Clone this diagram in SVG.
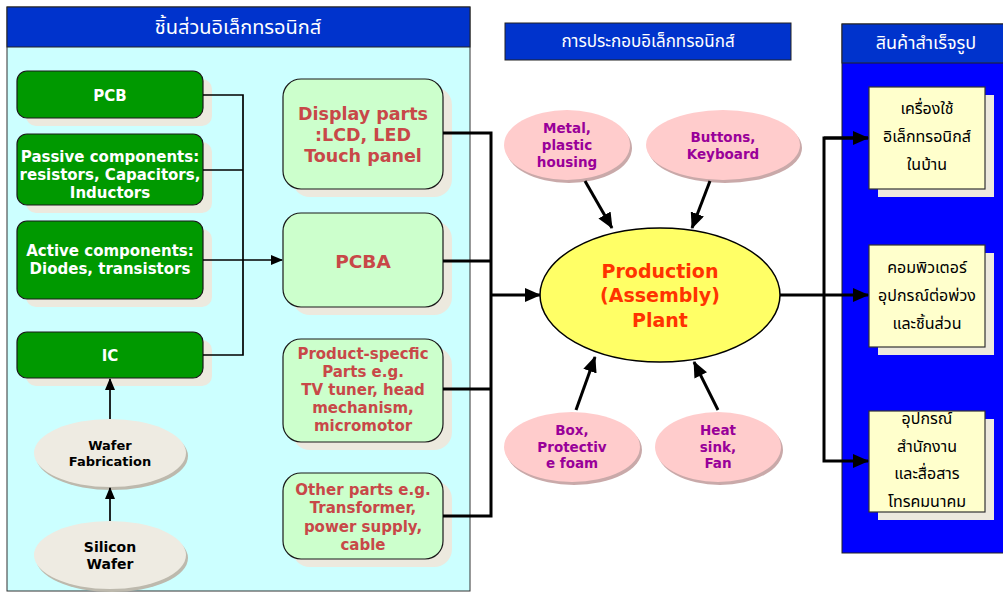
<svg xmlns="http://www.w3.org/2000/svg" width="1003" height="592" viewBox="0 0 1003 592">
<defs>
<style>
.hdr{fill:#0033CC;stroke:#222;stroke-width:1}
.th{font-family:"Noto Sans Thai","Noto Sans",sans-serif;text-anchor:middle}
.b{font-family:"DejaVu Sans",Verdana,sans-serif;font-weight:bold;text-anchor:middle}
.green{fill:#009900;stroke:#1a1a1a;stroke-width:1.2}
.lg{fill:#CCFFCC;stroke:#1a1a1a;stroke-width:1.2}
.shd{fill:#ECE9DE}
.yel{fill:#FFFFCC;stroke:#333;stroke-width:1.2}
.pink{fill:#FFCCCC}
.gry{fill:#EEEBE2}
.wt{fill:#fff}
.rd{fill:#C84848}
.pu{fill:#990099}
.thin{stroke:#000;stroke-width:1.7;fill:none}
.thick{stroke:#000;stroke-width:3;fill:none}
</style>
<marker id="as" markerUnits="userSpaceOnUse" markerWidth="12" markerHeight="10" refX="11" refY="5" orient="auto"><path d="M0,0 L12,5 L0,10 Z" fill="#000"/></marker>
<marker id="al" markerUnits="userSpaceOnUse" markerWidth="16" markerHeight="14" refX="15" refY="7" orient="auto"><path d="M0,0 L16,7 L0,14 Z" fill="#000"/></marker>
</defs>
<rect width="1003" height="592" fill="#fff"/>

<g id="panel-left">
<rect x="7" y="7" width="463" height="584" fill="#CCFFFF" stroke="#333" stroke-width="1"/>
<rect x="7" y="7" width="463" height="40" class="hdr"/>
<text x="238" y="34" class="th wt" font-size="20">ชิ้นส่วนอิเล็กทรอนิกส์</text>
</g>

<g id="panel-mid-title">
<rect x="505" y="23" width="286" height="37" class="hdr"/>
<text x="648" y="47" class="th wt" font-size="17">การประกอบอิเล็กทรอนิกส์</text>
</g>

<g id="panel-right">
<rect x="842" y="24" width="170" height="529" fill="#0000FF" stroke="#222" stroke-width="1"/>
<rect x="842" y="24" width="170" height="39" class="hdr"/>
<text x="926" y="49" class="th wt" font-size="18">สินค้าสำเร็จรูป</text>
</g>

<g id="pcb">
<rect x="26" y="79" width="186" height="47" rx="10" class="shd"/>
<rect x="17" y="71" width="186" height="47" rx="10" class="green"/>
<text x="110" y="101" class="b wt" font-size="15">PCB</text>
</g>
<g id="passive">
<rect x="26" y="142" width="186" height="71" rx="10" class="shd"/>
<rect x="17" y="134" width="186" height="71" rx="10" class="green"/>
<text class="b wt" font-size="15"><tspan x="110" y="162">Passive components:</tspan><tspan x="110" y="180">resistors, Capacitors,</tspan><tspan x="110" y="198">Inductors</tspan></text>
</g>
<g id="active">
<rect x="26" y="229" width="186" height="78" rx="10" class="shd"/>
<rect x="17" y="221" width="186" height="78" rx="10" class="green"/>
<text class="b wt" font-size="15"><tspan x="110" y="256">Active components:</tspan><tspan x="110" y="274">Diodes, transistors</tspan></text>
</g>
<g id="ic">
<rect x="26" y="340" width="186" height="46" rx="10" class="shd"/>
<rect x="17" y="332" width="186" height="46" rx="10" class="green"/>
<text x="110" y="361" class="b wt" font-size="15">IC</text>
</g>
<g id="wafer-fab">
<ellipse cx="112" cy="456" rx="76" ry="34" fill="#bdb9ad"/>
<ellipse cx="110" cy="453" rx="76" ry="34" class="gry"/>
<text class="b" font-size="13" fill="#000"><tspan x="110" y="450">Wafer</tspan><tspan x="110" y="466">Fabrication</tspan></text>
</g>
<g id="silicon-wafer">
<ellipse cx="112" cy="558" rx="76" ry="34" fill="#bdb9ad"/>
<ellipse cx="110" cy="555" rx="76" ry="34" class="gry"/>
<text class="b" font-size="14" fill="#000"><tspan x="110" y="552">Silicon</tspan><tspan x="110" y="569">Wafer</tspan></text>
</g>

<g id="display">
<rect x="292" y="87" width="160" height="110" rx="18" class="shd"/>
<rect x="283" y="79" width="160" height="110" rx="18" class="lg"/>
<text class="b rd" font-size="17.5"><tspan x="363" y="120">Display parts</tspan><tspan x="363" y="141">:LCD, LED</tspan><tspan x="363" y="162">Touch panel</tspan></text>
</g>
<g id="pcba">
<rect x="292" y="221" width="160" height="94" rx="18" class="shd"/>
<rect x="283" y="213" width="160" height="94" rx="18" class="lg"/>
<text x="363" y="268" class="b rd" font-size="18.5">PCBA</text>
</g>
<g id="product-specific">
<rect x="292" y="347" width="160" height="103" rx="18" class="shd"/>
<rect x="283" y="339" width="160" height="103" rx="18" class="lg"/>
<text class="b rd" font-size="15"><tspan x="363" y="359">Product-specfic</tspan><tspan x="363" y="377">Parts e.g.</tspan><tspan x="363" y="395">TV tuner, head</tspan><tspan x="363" y="413">mechanism,</tspan><tspan x="363" y="431">micromotor</tspan></text>
</g>
<g id="other-parts">
<rect x="292" y="481" width="160" height="86" rx="18" class="shd"/>
<rect x="283" y="473" width="160" height="86" rx="18" class="lg"/>
<text class="b rd" font-size="15"><tspan x="363" y="495">Other parts e.g.</tspan><tspan x="363" y="513">Transformer,</tspan><tspan x="363" y="532">power supply,</tspan><tspan x="363" y="550">cable</tspan></text>
</g>

<g id="production-plant">
<ellipse cx="660" cy="295" rx="120" ry="67" fill="#FFFF66" stroke="#000" stroke-width="1.5"/>
<text class="b" font-size="19" fill="#FF3300"><tspan x="660" y="278">Production</tspan><tspan x="660" y="302">(Assembly)</tspan><tspan x="660" y="327">Plant</tspan></text>
</g>

<g id="metal">
<ellipse cx="569" cy="148" rx="63" ry="35" fill="#c9a9a9"/>
<ellipse cx="567" cy="145" rx="63" ry="35" class="pink"/>
<text class="b pu" font-size="13.5"><tspan x="567" y="133">Metal,</tspan><tspan x="567" y="150">plastic</tspan><tspan x="567" y="167">housing</tspan></text>
</g>
<g id="buttons">
<ellipse cx="725" cy="148" rx="77" ry="35" fill="#c9a9a9"/>
<ellipse cx="723" cy="145" rx="77" ry="35" class="pink"/>
<text class="b pu" font-size="13.5"><tspan x="723" y="142">Buttons,</tspan><tspan x="723" y="159">Keyboard</tspan></text>
</g>
<g id="box-foam">
<ellipse cx="574" cy="450" rx="68" ry="35" fill="#c9a9a9"/>
<ellipse cx="572" cy="447" rx="68" ry="35" class="pink"/>
<text class="b pu" font-size="13.5"><tspan x="572" y="435">Box,</tspan><tspan x="572" y="452">Protectiv</tspan><tspan x="572" y="468">e foam</tspan></text>
</g>
<g id="heat-sink">
<ellipse cx="720" cy="450" rx="63" ry="35" fill="#c9a9a9"/>
<ellipse cx="718" cy="447" rx="63" ry="35" class="pink"/>
<text class="b pu" font-size="13.5"><tspan x="718" y="435">Heat</tspan><tspan x="718" y="452">sink,</tspan><tspan x="718" y="468">Fan</tspan></text>
</g>

<g id="home-electronics">
<rect x="878" y="95" width="116" height="102" class="shd"/>
<rect x="869" y="87" width="116" height="102" class="yel"/>
<text class="th" font-size="16" fill="#000"><tspan x="927" y="114">เครื่องใช้</tspan><tspan x="927" y="142">อิเล็กทรอนิกส์</tspan><tspan x="927" y="170">ในบ้าน</tspan></text>
</g>
<g id="computers">
<rect x="878" y="253" width="116" height="102" class="shd"/>
<rect x="869" y="245" width="116" height="102" class="yel"/>
<text class="th" font-size="16" fill="#000"><tspan x="927" y="273">คอมพิวเตอร์</tspan><tspan x="927" y="301">อุปกรณ์ต่อพ่วง</tspan><tspan x="927" y="329">และชิ้นส่วน</tspan></text>
</g>
<g id="office-telecom">
<rect x="878" y="419" width="116" height="101" class="shd"/>
<rect x="869" y="411" width="116" height="101" class="yel"/>
<text class="th" font-size="16" fill="#000"><tspan x="927" y="424">อุปกรณ์</tspan><tspan x="927" y="452">สำนักงาน</tspan><tspan x="927" y="479">และสื่อสาร</tspan><tspan x="927" y="507">โทรคมนาคม</tspan></text>
</g>

<g id="connectors">
<path class="thin" d="M203,95 H243 V355 H203"/>
<path class="thin" d="M203,170 H243"/>
<path class="thin" d="M203,260 H282" marker-end="url(#as)"/>
<path class="thin" d="M110,521 V488" marker-end="url(#as)"/>
<path class="thin" d="M110,419 V379" marker-end="url(#as)"/>
<path class="thick" d="M443,133 H491 V516 H443"/>
<path class="thick" d="M443,261 H491"/>
<path class="thick" d="M443,389 H491"/>
<path class="thick" d="M491,295 H540" marker-end="url(#al)"/>
<path class="thick" d="M585,181 L612,228" marker-end="url(#al)"/>
<path class="thick" d="M710,181 L692,228" marker-end="url(#al)"/>
<path class="thick" d="M576,410 L595,357" marker-end="url(#al)"/>
<path class="thick" d="M718,410 L694,362" marker-end="url(#al)"/>
<path class="thick" d="M780,295 H868" marker-end="url(#al)"/>
<path class="thick" d="M868,138 H824 V461 H868" marker-end="url(#al)"/>
<path class="thick" d="M824,138 H868" marker-end="url(#al)"/>
</g>
</svg>
